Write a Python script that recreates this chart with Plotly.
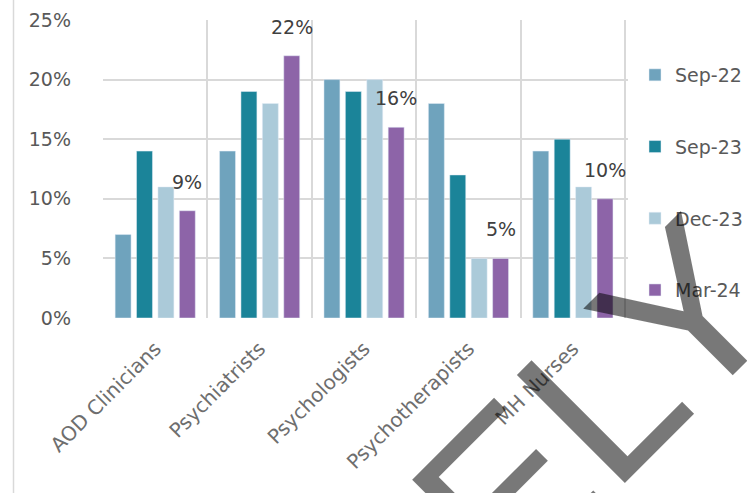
import plotly.graph_objects as go

categories = ["AOD Clinicians", "Psychiatrists", "Psychologists", "Psychotherapists", "MH Nurses"]
series_names = ["Sep-22", "Sep-23", "Dec-23", "Mar-24"]
sep22 = [7, 14, 20, 18, 14]
sep23 = [14, 19, 19, 12, 15]
dec23 = [11, 18, 20, 5, 11]
mar24 = [9, 22, 16, 5, 10]
colors = ["#6fa3bd", "#1b8499", "#abcad9", "#8d64a8"]
y_ticks = [0, 5, 10, 15, 20, 25]
y_tick_labels = ["0%", "5%", "10%", "15%", "20%", "25%"]

W, H = 747, 493
L_M, R_M, T_M, B_M = 103, 119, 20, 175
PW, PH = W - L_M - R_M, H - T_M - B_M

def px_x(p):
    return (p - L_M) / PW

def px_y(p):
    return (H - B_M - p) / PH

fig = go.Figure()
for i, (name, vals) in enumerate(zip(series_names, [sep22, sep23, dec23, mar24])):
    fig.add_trace(go.Bar(
        x=categories, y=vals, name=name, marker_color=colors[i],
        legendgroup=name, hoverinfo="skip",
    ))

bargap = 0.18
n = len(series_names)
slot = (1 - bargap) / n
for i, v in enumerate(mar24):
    fig.add_annotation(
        x=i + (n - 1 - (n - 1) / 2) * slot, y=v, xref="x", yref="y",
        text=f"{v}%", showarrow=False, yanchor="bottom", yshift=16,
        font=dict(family="DejaVu Sans", size=19, color="#404040"),
    )

# watermark
fig.add_annotation(
    x=px_x(595), y=px_y(404), xref="paper", yref="paper",
    text="ELY", showarrow=False, textangle=-45,
    xanchor="center", yanchor="middle",
    font=dict(family="Liberation Sans", size=222, color="rgba(0,0,0,0.53)"),
)

fig.add_shape(type="line", xref="paper", yref="paper",
              x0=px_x(13.5), x1=px_x(13.5), y0=px_y(H), y1=px_y(0),
              line=dict(color="#d9d9d9", width=1.5))

fig.update_layout(
    width=W, height=H,
    margin=dict(l=L_M, r=R_M, t=T_M, b=B_M, autoexpand=False),
    paper_bgcolor="white", plot_bgcolor="white",
    barmode="group", bargap=bargap, bargroupgap=0.255,
    font=dict(family="DejaVu Sans", color="#595959"),
    legend=dict(
        x=px_x(635), xanchor="left", y=px_y(56), yanchor="top",
        font=dict(size=19, color="#595959"), tracegroupgap=44,
        traceorder="grouped", itemwidth=30, bgcolor="rgba(0,0,0,0)",
    ),
    xaxis=dict(
        type="category", tickson="boundaries", showgrid=True,
        gridcolor="#d9d9d9", gridwidth=1.5, tickangle=-45,
        tickfont=dict(size=20, color="#6e6e6e"), ticks="",
        showline=False, zeroline=False, ticklabelstandoff=14,
        automargin=False,
    ),
    yaxis=dict(
        range=[0, 25], tickmode="array", tickvals=y_ticks, ticktext=y_tick_labels,
        showgrid=True, gridcolor="#d9d9d9", gridwidth=1.5,
        tickfont=dict(size=19, color="#595959"), zeroline=False,
        showline=False, ticklabelstandoff=31, automargin=False,
    ),
    showlegend=True,
)

fig.write_html("out.html")
